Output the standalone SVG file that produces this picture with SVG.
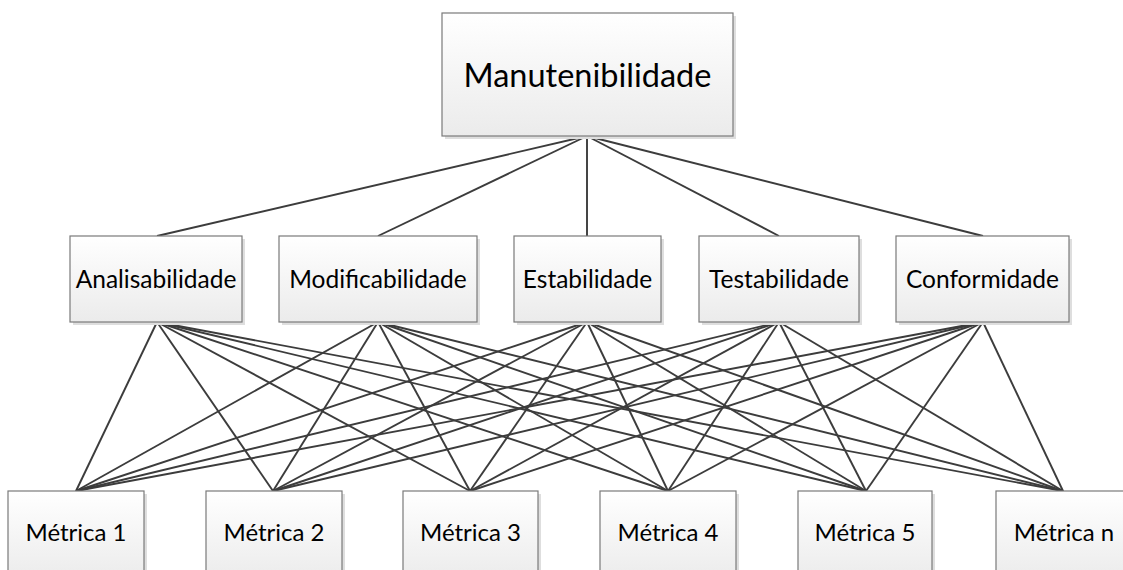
<svg xmlns="http://www.w3.org/2000/svg" width="1123" height="570" viewBox="0 0 1123 570">
<style>
.box{fill:url(#g);stroke:#7a7a7a;stroke-width:1.2}
.sh{fill:#dedede}
.t{font-family:Lato,"Open Sans",sans-serif;fill:#000;text-anchor:middle}
.m{font-size:24.5px}
.b{font-size:24px}
.top{font-size:32.5px}
#connectors line{stroke:#3c3c3c;stroke-width:1.9}
</style>
<defs>
<linearGradient id="g" x1="0" y1="0" x2="0" y2="1">
<stop offset="0" stop-color="#ffffff"/>
<stop offset="1" stop-color="#ebebeb"/>
</linearGradient>
</defs>
<g id="connectors">
<line x1="587" y1="136" x2="157" y2="236"/>
<line x1="587" y1="136" x2="378" y2="236"/>
<line x1="587" y1="136" x2="587" y2="236"/>
<line x1="587" y1="136" x2="779" y2="236"/>
<line x1="587" y1="136" x2="983" y2="236"/>
<line x1="157" y1="322" x2="76" y2="491"/>
<line x1="157" y1="322" x2="273" y2="491"/>
<line x1="157" y1="322" x2="470" y2="491"/>
<line x1="157" y1="322" x2="668" y2="491"/>
<line x1="157" y1="322" x2="866" y2="491"/>
<line x1="157" y1="322" x2="1063" y2="491"/>
<line x1="378" y1="322" x2="76" y2="491"/>
<line x1="378" y1="322" x2="273" y2="491"/>
<line x1="378" y1="322" x2="470" y2="491"/>
<line x1="378" y1="322" x2="668" y2="491"/>
<line x1="378" y1="322" x2="866" y2="491"/>
<line x1="378" y1="322" x2="1063" y2="491"/>
<line x1="587" y1="322" x2="76" y2="491"/>
<line x1="587" y1="322" x2="273" y2="491"/>
<line x1="587" y1="322" x2="470" y2="491"/>
<line x1="587" y1="322" x2="668" y2="491"/>
<line x1="587" y1="322" x2="866" y2="491"/>
<line x1="587" y1="322" x2="1063" y2="491"/>
<line x1="779" y1="322" x2="76" y2="491"/>
<line x1="779" y1="322" x2="273" y2="491"/>
<line x1="779" y1="322" x2="470" y2="491"/>
<line x1="779" y1="322" x2="668" y2="491"/>
<line x1="779" y1="322" x2="866" y2="491"/>
<line x1="779" y1="322" x2="1063" y2="491"/>
<line x1="983" y1="322" x2="76" y2="491"/>
<line x1="983" y1="322" x2="273" y2="491"/>
<line x1="983" y1="322" x2="470" y2="491"/>
<line x1="983" y1="322" x2="668" y2="491"/>
<line x1="983" y1="322" x2="866" y2="491"/>
<line x1="983" y1="322" x2="1063" y2="491"/>
</g>
<g id="manutenibilidade">
<rect class="sh" x="445" y="16" width="291" height="123"/>
<rect class="box" x="442" y="13" width="291" height="123"/>
<text class="t top" x="587.5" y="87">Manutenibilidade</text>
</g>
<g id="analisabilidade">
<rect class="sh" x="73" y="239" width="172" height="86"/>
<rect class="box" x="70" y="236" width="172" height="86"/>
<text class="t m" x="156" y="288">Analisabilidade</text>
</g>
<g id="modificabilidade">
<rect class="sh" x="282" y="239" width="198" height="86"/>
<rect class="box" x="279" y="236" width="198" height="86"/>
<text class="t m" x="378" y="288">Modificabilidade</text>
</g>
<g id="estabilidade">
<rect class="sh" x="517" y="239" width="147" height="86"/>
<rect class="box" x="514" y="236" width="147" height="86"/>
<text class="t m" x="587.5" y="288">Estabilidade</text>
</g>
<g id="testabilidade">
<rect class="sh" x="702" y="239" width="160" height="86"/>
<rect class="box" x="699" y="236" width="160" height="86"/>
<text class="t m" x="779" y="288">Testabilidade</text>
</g>
<g id="conformidade">
<rect class="sh" x="899" y="239" width="173" height="86"/>
<rect class="box" x="896" y="236" width="173" height="86"/>
<text class="t m" x="982.5" y="288">Conformidade</text>
</g>
<g id="metrica1">
<rect class="sh" x="11" y="494" width="136" height="90"/>
<rect class="box" x="8" y="491" width="136" height="90"/>
<text class="t b" x="76" y="541">Métrica 1</text>
</g>
<g id="metrica2">
<rect class="sh" x="209" y="494" width="136" height="90"/>
<rect class="box" x="206" y="491" width="136" height="90"/>
<text class="t b" x="274" y="541">Métrica 2</text>
</g>
<g id="metrica3">
<rect class="sh" x="406" y="494" width="135" height="90"/>
<rect class="box" x="403" y="491" width="135" height="90"/>
<text class="t b" x="470.5" y="541">Métrica 3</text>
</g>
<g id="metrica4">
<rect class="sh" x="603" y="494" width="136" height="90"/>
<rect class="box" x="600" y="491" width="136" height="90"/>
<text class="t b" x="668" y="541">Métrica 4</text>
</g>
<g id="metrica5">
<rect class="sh" x="801" y="494" width="134" height="90"/>
<rect class="box" x="798" y="491" width="134" height="90"/>
<text class="t b" x="865" y="541">Métrica 5</text>
</g>
<g id="metrican">
<rect class="sh" x="999" y="494" width="136" height="90"/>
<rect class="box" x="996" y="491" width="136" height="90"/>
<text class="t b" x="1064" y="541">Métrica n</text>
</g>
</svg>
